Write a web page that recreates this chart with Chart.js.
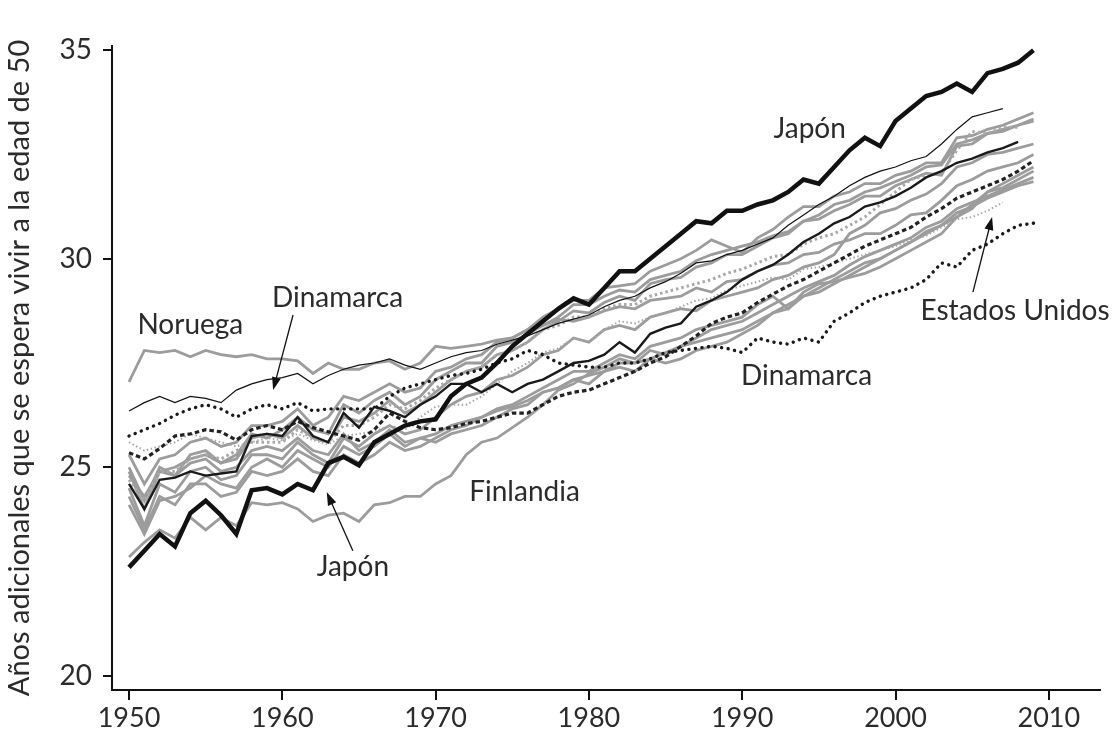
<!DOCTYPE html>
<html>
<head>
<meta charset="utf-8">
<script src="https://cdn.jsdelivr.net/npm/chart.js@4.4.1/dist/chart.umd.min.js"></script>
<style>
  html, body { margin: 0; padding: 0; background: #fff; }
  #wrap { width: 1114px; height: 739px; position: relative; }
</style>
</head>
<body>
<div id="wrap"><canvas id="lifeChart"></canvas></div>
<script>
// Años (eje x)
const years = [
  1950, 1951, 1952, 1953, 1954, 1955, 1956, 1957, 1958, 1959,
  1960, 1961, 1962, 1963, 1964, 1965, 1966, 1967, 1968, 1969,
  1970, 1971, 1972, 1973, 1974, 1975, 1976, 1977, 1978, 1979,
  1980, 1981, 1982, 1983, 1984, 1985, 1986, 1987, 1988, 1989,
  1990, 1991, 1992, 1993, 1994, 1995, 1996, 1997, 1998, 1999,
  2000, 2001, 2002, 2003, 2004, 2005, 2006, 2007, 2008, 2009
];
const xTicks = [1950, 1960, 1970, 1980, 1990, 2000, 2010];
const yTicks = [20, 25, 30, 35];

// Japón (línea negra gruesa)
const japon = [
  22.6, 23.0, 23.4, 23.1, 23.9, 24.2, 23.85, 23.4, 24.45, 24.5,
  24.35, 24.6, 24.45, 25.1, 25.25, 25.05, 25.6, 25.8, 26.0, 26.1,
  26.15, 26.7, 27.0, 27.15, 27.5, 27.9, 28.2, 28.5, 28.8, 29.05,
  28.9, 29.3, 29.7, 29.7, 30.0, 30.3, 30.6, 30.9, 30.85, 31.15,
  31.15, 31.3, 31.4, 31.6, 31.9, 31.8, 32.2, 32.6, 32.9, 32.7,
  33.3, 33.6, 33.9, 34.0, 34.2, 34.0, 34.45, 34.55, 34.7, 35.0
];
// línea negra fina (1950-2007)
const negraFina = [
  26.35, 26.55, 26.7, 26.55, 26.7, 26.65, 26.55, 26.85, 27.0, 27.1,
  27.15, 27.25, 27.0, 27.2, 27.35, 27.45, 27.5, 27.6, 27.45, 27.35,
  27.5, 27.65, 27.75, 27.8, 27.95, 28.05, 28.15, 28.3, 28.45, 28.55,
  28.65, 28.85, 29.0, 29.1, 29.3, 29.45, 29.65, 29.9, 29.95, 30.1,
  30.2, 30.35, 30.5, 30.8, 31.05, 31.3, 31.5, 31.75, 31.95, 32.1,
  32.2, 32.35, 32.45, 32.75, 33.1, 33.4, 33.5, 33.6
];
// línea negra media (1950-2008)
const negraMedia = [
  24.6, 24.0, 24.7, 24.75, 24.9, 24.8, 24.85, 24.9, 25.75, 25.8,
  25.75, 26.2, 25.75, 25.6, 26.3, 25.95, 26.45, 26.35, 26.2, 26.5,
  26.7, 27.0, 27.0, 26.8, 27.0, 26.8, 27.0, 27.1, 27.3, 27.5,
  27.55, 27.7, 28.0, 27.75, 28.2, 28.35, 28.45, 28.85, 29.0, 29.2,
  29.5, 29.7, 29.85, 30.1, 30.4, 30.6, 30.85, 31.0, 31.25, 31.35,
  31.5, 31.7, 31.95, 32.1, 32.3, 32.4, 32.55, 32.65, 32.8
];
// Dinamarca (puntos negros)
const dinamarca = [
  25.75, 25.9, 26.05, 26.25, 26.4, 26.5, 26.4, 26.2, 26.4, 26.5,
  26.4, 26.55, 26.35, 26.4, 26.4, 26.4, 26.4, 26.7, 26.9, 27.0,
  27.1, 27.2, 27.25, 27.35, 27.5, 27.6, 27.8, 27.7, 27.5, 27.45,
  27.4, 27.4, 27.5, 27.5, 27.6, 27.75, 27.8, 27.85, 27.9, 27.85,
  27.75, 28.1, 28.0, 27.95, 28.1, 28.0, 28.5, 28.7, 28.95, 29.1,
  29.2, 29.3, 29.5, 29.9, 29.8, 30.2, 30.35, 30.6, 30.8, 30.85
];
// trazos negros
const negraTrazos = [
  25.35, 25.2, 25.45, 25.75, 25.8, 25.9, 25.85, 25.65, 25.9, 26.0,
  25.9, 26.1, 25.95, 25.85, 25.75, 25.65, 25.9, 26.3, 26.1, 25.95,
  25.9, 25.95, 26.05, 26.1, 26.2, 26.3, 26.3, 26.5, 26.7, 26.8,
  26.85, 27.0, 27.15, 27.3, 27.5, 27.65, 27.9, 28.15, 28.45, 28.6,
  28.7, 28.95, 29.15, 29.35, 29.5, 29.7, 29.9, 30.1, 30.3, 30.45,
  30.6, 30.75, 31.0, 31.2, 31.45, 31.6, 31.75, 31.9, 32.1, 32.35
];
// Estados Unidos (puntos grises finos, 1950-2007)
const estadosUnidos = [
  25.6, 25.4, 25.5, 25.6, 25.8, 25.7, 25.6, 25.5, 25.6, 25.7,
  25.65, 25.8, 25.65, 25.55, 25.75, 25.8, 25.85, 26.0, 25.9, 26.2,
  26.45, 26.5, 26.5, 26.7, 27.0, 27.3, 27.5, 27.75, 27.85, 28.1,
  28.0, 28.3, 28.5, 28.45, 28.6, 28.7, 28.85, 29.0, 29.05, 29.25,
  29.35, 29.45, 29.55, 29.5, 29.75, 29.8, 29.9, 30.0, 30.1, 30.2,
  30.3, 30.45, 30.55, 30.75, 30.95, 31.0, 31.15, 31.35
];
// puntos grises gruesos (1950-2008)
const grisPuntos = [
  24.7, 24.2, 24.9, 24.9, 25.2, 25.3, 25.2, 25.4, 25.6, 25.6,
  25.6, 25.9, 25.7, 25.6, 26.0, 26.0, 26.2, 26.5, 26.4, 26.6,
  26.9, 27.1, 27.3, 27.4, 27.7, 27.8, 28.0, 28.3, 28.4, 28.6,
  28.6, 28.8, 28.9, 28.9, 29.1, 29.2, 29.3, 29.4, 29.5, 29.65,
  29.75, 29.9, 30.05, 30.1, 30.35, 30.5, 30.6, 30.8, 31.0, 31.3,
  31.6, 31.9, 32.0, 32.05, 32.6, 33.05, 33.0, 33.15, 33.15
];
// Noruega (gris)
const noruega = [
  27.05, 27.8, 27.75, 27.8, 27.65, 27.8, 27.7, 27.65, 27.7, 27.6,
  27.6, 27.55, 27.25, 27.5, 27.35, 27.35, 27.5, 27.55, 27.35, 27.5,
  27.9, 27.85, 27.9, 27.95, 28.05, 28.1, 28.3, 28.4, 28.55, 28.5,
  28.6, 28.75, 28.85, 28.8, 29.0, 29.05, 29.1, 29.3, 29.2, 29.45,
  29.5, 29.7, 29.85, 29.9, 30.1, 30.15, 30.35, 30.45, 30.6, 30.6,
  30.8, 31.05, 31.1, 31.4, 31.75, 31.9, 32.1, 32.2, 32.3, 32.5
];
// Finlandia (gris)
const finlandia = [
  22.85, 23.2, 23.5, 23.3, 23.8, 23.5, 23.8, 23.6, 24.15, 24.1,
  24.15, 24.0, 23.7, 23.85, 23.9, 23.7, 24.1, 24.15, 24.3, 24.3,
  24.6, 24.8, 25.3, 25.6, 25.7, 25.95, 26.2, 26.5, 26.85, 27.0,
  27.25, 27.4, 27.6, 27.5, 27.8, 27.7, 27.9, 28.0, 28.1, 28.2,
  28.3, 28.5, 28.7, 28.8, 29.1, 29.2, 29.4, 29.6, 29.8, 30.0,
  30.2, 30.4, 30.6, 30.8, 31.0, 31.3, 31.6, 31.7, 31.9, 32.1
];
// otros países (gris)
const grisA = [
  25.3, 24.6, 25.2, 25.3, 25.6, 25.7, 25.5, 25.6, 26.0, 26.0,
  26.1, 26.4, 26.0, 26.2, 26.7, 26.6, 26.8, 27.0, 26.8, 26.9,
  27.3, 27.4, 27.6, 27.7, 28.0, 28.1, 28.3, 28.6, 28.8, 29.0,
  29.0, 29.3, 29.35, 29.4, 29.7, 29.85, 30.0, 30.2, 30.45, 30.3,
  30.15, 30.5, 30.7, 31.0, 31.25, 31.25, 31.5, 31.6, 31.8, 31.8,
  32.0, 32.1, 32.3, 32.3, 32.9, 32.95, 33.1, 33.2, 33.35, 33.5
];
const grisB = [
  24.9, 24.0, 24.9, 25.0, 25.2, 25.3, 25.1, 25.2, 25.7, 25.8,
  25.7, 26.0, 25.7, 25.6, 26.2, 26.1, 26.3, 26.6, 26.3, 26.5,
  26.8, 27.1, 27.3, 27.4, 27.7, 27.8, 28.0, 28.3, 28.5, 28.75,
  28.7, 28.95, 29.1, 29.0, 29.4, 29.5, 29.55, 29.8, 29.9, 30.1,
  30.1, 30.3, 30.5, 30.6, 30.9, 30.95, 31.15, 31.3, 31.5, 31.5,
  31.75, 31.9, 32.05, 32.0, 32.7, 32.75, 33.0, 33.05, 33.2, 33.35
];
const grisC = [
  25.0, 24.2, 25.0, 24.8, 25.3, 25.4, 25.1, 25.3, 25.8, 25.7,
  25.9, 26.2, 25.9, 25.8, 26.5, 26.3, 26.6, 26.8, 26.5, 26.7,
  27.1, 27.3, 27.5, 27.5, 27.9, 28.0, 28.2, 28.4, 28.6, 28.9,
  28.9, 29.1, 29.25, 29.2, 29.5, 29.6, 29.7, 29.95, 30.1, 30.2,
  30.3, 30.4, 30.55, 30.65, 30.9, 31.05, 31.3, 31.4, 31.6, 31.7,
  31.85, 32.0, 32.2, 32.25, 32.75, 32.85, 33.0, 33.1, 33.2, 33.3
];
const grisD = [
  24.5, 23.6, 24.6, 24.4, 24.9, 25.0, 24.7, 24.8, 25.3, 25.3,
  25.2, 25.6, 25.3, 25.1, 25.7, 25.5, 25.8, 26.0, 25.8, 25.9,
  26.2, 26.5, 26.7, 26.8, 27.1, 27.2, 27.4, 27.7, 27.8, 28.1,
  28.0, 28.3, 28.4, 28.3, 28.6, 28.7, 28.8, 28.75, 29.0, 29.1,
  29.2, 29.3, 29.5, 29.6, 29.8, 29.9, 30.1, 30.6, 30.8, 31.1,
  31.2, 31.4, 31.55, 31.8, 32.2, 32.3, 32.5, 32.55, 32.65, 32.75
];
const grisE = [
  24.3, 23.5, 24.3, 24.1, 24.6, 24.6, 24.3, 24.4, 24.9, 24.8,
  24.9, 25.2, 24.9, 24.8, 25.3, 25.1, 25.3, 25.6, 25.4, 25.5,
  25.7, 25.9, 26.0, 26.2, 26.4, 26.5, 26.7, 26.9, 27.1, 27.3,
  27.3, 27.5, 27.7, 27.6, 27.9, 28.0, 28.1, 28.3, 28.4, 28.5,
  28.6, 28.9, 29.1, 28.8, 29.2, 29.4, 29.45, 29.55, 29.65, 29.8,
  30.0, 30.2, 30.4, 30.6, 31.0, 31.2, 31.6, 31.8, 32.0, 32.2
];
const grisF = [
  24.8, 24.3, 24.9, 24.8, 25.1, 25.2, 24.9, 25.0, 25.4, 25.5,
  25.4, 25.7, 25.4, 25.3, 25.8, 25.4, 25.6, 25.9, 25.6, 25.7,
  25.8, 26.0, 26.1, 26.2, 26.35, 26.45, 26.6, 26.8, 26.9, 27.1,
  27.2, 27.3, 27.5, 27.5, 27.6, 27.75, 27.9, 28.1, 28.3, 28.4,
  28.5, 28.7, 28.9, 29.1, 29.3, 29.45, 29.6, 29.85, 30.05, 30.2,
  30.35, 30.5, 30.75, 30.9, 31.2, 31.35, 31.5, 31.65, 31.8, 31.95
];
const grisG = [
  24.1, 23.4, 24.2, 24.3, 24.5, 24.8, 24.6, 24.5, 25.0, 25.2,
  25.0, 25.4, 25.2, 25.0, 25.5, 25.3, 25.5, 25.8, 25.5, 25.7,
  25.6, 25.8, 25.9, 26.0, 26.2, 26.4, 26.5, 26.8, 26.9, 27.1,
  27.0, 27.3, 27.4, 27.3, 27.6, 27.5, 27.6, 27.8, 27.9, 28.0,
  28.2, 28.4, 28.7, 28.9, 29.1, 29.3, 29.5, 29.7, 29.9, 30.0,
  30.2, 30.4, 30.65, 30.8, 31.1, 31.25, 31.45, 31.6, 31.75, 31.85
];

const yTitle = 'Años adicionales que se espera vivir a la edad de 50';

// rótulos sobre el gráfico: [texto, año, valor]
const notes = [
  ['Noruega', 1954.0, 28.4],
  ['Dinamarca', 1963.6, 29.05],
  ['Japón', 1964.6, 22.6],
  ['Finlandia', 1975.8, 24.4],
  ['Dinamarca', 1994.2, 27.2],
  ['Japón', 1994.4, 33.1],
  ['Estados Unidos', 2007.8, 28.75]
];
// flechas: [año inicio, valor inicio, año punta, valor punta]
const arrows = [
  [1960.7, 28.65, 1959.4, 26.85],
  [1964.6, 23.0, 1962.9, 24.4],
  [2005.05, 29.2, 2006.3, 31.0]
];

const GRAY = '#9c9c9c';
const TEXT = '#2b2b2b';
const FONT = 'Lato, "Open Sans", sans-serif';

function series(label, values, style) {
  return Object.assign({
    label: label,
    data: values.map((v, i) => ({ x: years[i], y: v })),
    pointRadius: 0,
    tension: 0,
    fill: false,
    borderCapStyle: 'butt'
  }, style);
}

const datasets = [
  series('Japón', japon, { borderColor: '#111', borderWidth: 4.5, order: 0 }),
  series('negra media', negraMedia, { borderColor: '#1a1a1a', borderWidth: 2.4, order: 1 }),
  series('negra fina', negraFina, { borderColor: '#111', borderWidth: 1.2, order: 1 }),
  series('Dinamarca', dinamarca, { borderColor: '#1a1a1a', borderWidth: 3.4, borderDash: [0.1, 6.5], borderCapStyle: 'round', order: 2 }),
  series('trazos', negraTrazos, { borderColor: '#222', borderWidth: 3.2, borderDash: [4.5, 3], order: 2 }),
  series('Estados Unidos', estadosUnidos, { borderColor: '#a6a6a6', borderWidth: 2, borderDash: [1.5, 2.5], order: 3 }),
  series('gris puntos', grisPuntos, { borderColor: '#a8a8a8', borderWidth: 3, borderDash: [2.5, 3], order: 3 }),
  series('Noruega', noruega, { borderColor: GRAY, borderWidth: 2.8, order: 4 }),
  series('Finlandia', finlandia, { borderColor: GRAY, borderWidth: 2.8, order: 4 }),
  series('A', grisA, { borderColor: GRAY, borderWidth: 2.8, order: 4 }),
  series('B', grisB, { borderColor: GRAY, borderWidth: 2.8, order: 4 }),
  series('C', grisC, { borderColor: GRAY, borderWidth: 2.8, order: 4 }),
  series('D', grisD, { borderColor: GRAY, borderWidth: 2.8, order: 4 }),
  series('E', grisE, { borderColor: GRAY, borderWidth: 2.8, order: 4 }),
  series('F', grisF, { borderColor: GRAY, borderWidth: 2.8, order: 4 }),
  series('G', grisG, { borderColor: GRAY, borderWidth: 2.8, order: 4 })
];

const notesPlugin = {
  id: 'notes',
  afterDatasetsDraw(chart) {
    const ctx = chart.ctx;
    const x = chart.scales.x;
    const y = chart.scales.y;
    ctx.save();
    ctx.font = '28px ' + FONT;
    ctx.fillStyle = TEXT;
    ctx.textAlign = 'center';
    ctx.textBaseline = 'middle';
    notes.forEach(n => {
      ctx.fillText(n[0], x.getPixelForValue(n[1]), y.getPixelForValue(n[2]));
    });

    // flechas
    ctx.strokeStyle = '#111';
    ctx.fillStyle = '#111';
    ctx.lineWidth = 1.3;
    arrows.forEach(a => {
      const x0 = x.getPixelForValue(a[0]), y0 = y.getPixelForValue(a[1]);
      const x1 = x.getPixelForValue(a[2]), y1 = y.getPixelForValue(a[3]);
      const ang = Math.atan2(y1 - y0, x1 - x0);
      ctx.beginPath();
      ctx.moveTo(x0, y0);
      ctx.lineTo(x1 - 8 * Math.cos(ang), y1 - 8 * Math.sin(ang));
      ctx.stroke();
      ctx.beginPath();
      ctx.moveTo(x1, y1);
      ctx.lineTo(x1 - 13 * Math.cos(ang) + 4.5 * Math.sin(ang), y1 - 13 * Math.sin(ang) - 4.5 * Math.cos(ang));
      ctx.lineTo(x1 - 13 * Math.cos(ang) - 4.5 * Math.sin(ang), y1 - 13 * Math.sin(ang) + 4.5 * Math.cos(ang));
      ctx.closePath();
      ctx.fill();
    });
    ctx.restore();
  }
};

new Chart(document.getElementById('lifeChart'), {
  type: 'line',
  data: { datasets: datasets },
  options: {
    responsive: true,
    maintainAspectRatio: false,
    animation: false,
    layout: { padding: { top: 46, right: 14, left: 0, bottom: 0 } },
    plugins: {
      legend: { display: false },
      tooltip: { enabled: false }
    },
    scales: {
      x: {
        type: 'linear',
        min: 1948.89,
        max: 2013.34,
        afterBuildTicks: s => { s.ticks = xTicks.map(v => ({ value: v })); },
        afterFit: s => { s.height = 49; },
        grid: { display: true, drawOnChartArea: false, drawTicks: true, tickLength: 10, color: '#111', lineWidth: 2 },
        border: { display: true, color: '#111', width: 2 },
        ticks: {
          font: { family: FONT, size: 27 }, color: TEXT, padding: 2, maxRotation: 0, autoSkip: false,
          callback: v => String(v)
        }
      },
      y: {
        type: 'linear',
        min: 19.66,
        max: 35.1,
        afterBuildTicks: s => { s.ticks = yTicks.map(v => ({ value: v })); },
        afterFit: s => { s.width = 112; },
        grid: { display: true, drawOnChartArea: false, drawTicks: true, tickLength: 9, color: '#111', lineWidth: 2 },
        border: { display: true, color: '#111', width: 2 },
        ticks: { font: { family: FONT, size: 28 }, color: TEXT, padding: 11, callback: v => String(v) },
        title: { display: true, text: yTitle, font: { family: FONT, size: 29 }, color: TEXT, padding: { top: 2, bottom: 0 } }
      }
    }
  },
  plugins: [notesPlugin]
});
</script>
</body>
</html>
